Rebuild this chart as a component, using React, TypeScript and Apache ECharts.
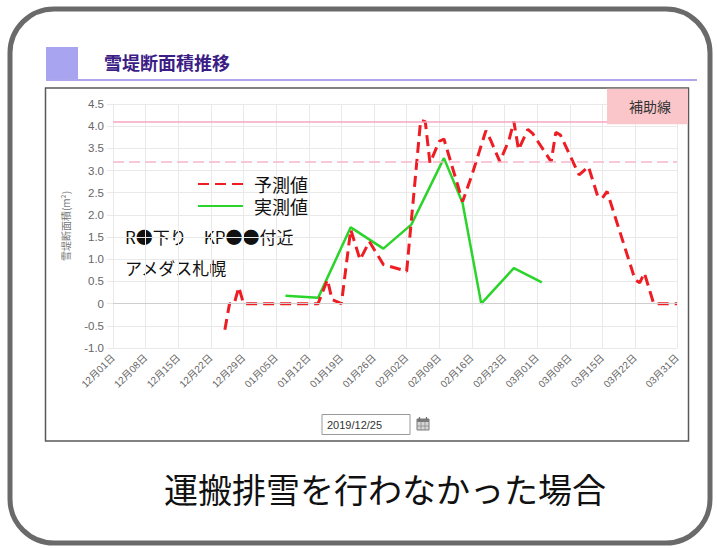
import React, { useEffect, useRef } from "react";
import * as echarts from "echarts";

// ---- data ----
const axisStart = "2019-12-01";
const axisEnd = "2020-03-31";

const predDates = [
  "2019-12-25", "2019-12-26", "2019-12-27", "2019-12-28", "2019-12-29",
  "2020-01-14", "2020-01-16", "2020-01-17", "2020-01-19", "2020-01-21",
  "2020-01-23", "2020-01-25", "2020-01-28", "2020-02-02", "2020-02-05",
  "2020-02-06", "2020-02-07", "2020-02-09", "2020-02-10", "2020-02-14",
  "2020-02-16", "2020-02-19", "2020-02-20", "2020-02-22", "2020-02-24",
  "2020-02-25", "2020-02-26", "2020-02-28", "2020-02-29", "2020-03-04",
  "2020-03-05", "2020-03-06", "2020-03-10", "2020-03-12", "2020-03-14",
  "2020-03-15", "2020-03-16", "2020-03-22", "2020-03-23", "2020-03-24",
  "2020-03-26", "2020-03-31",
];
const predValues = [
  -0.59, 0, 0, 0.37, 0,
  0, 0.54, 0.09, 0, 1.67,
  0.99, 1.4, 0.88, 0.73, 4.13,
  4.1, 3.17, 3.66, 3.71, 2.3,
  2.9, 3.9, 3.69, 3.2, 3.7,
  4.11, 3.47, 3.93, 3.84, 3.2,
  3.86, 3.8, 2.9, 3.09, 2.42,
  2.38, 2.53, 0.54, 0.47, 0.69,
  0, 0,
];

const actDates = [
  "2020-01-07", "2020-01-14", "2020-01-21", "2020-01-28", "2020-02-03",
  "2020-02-10", "2020-02-14", "2020-02-18", "2020-02-25", "2020-03-02",
];
const actValues = [0.18, 0.13, 1.72, 1.24, 1.78, 3.28, 2.27, 0, 0.8, 0.48];

const refSolidValue = 4.1;
const refDashedValue = 3.2;
const seriesNames = ["予測値", "実測値"];
const titleText = "雪堤断面積推移";
const yAxisName = "雪堤断面積(m²)";
const noteLines = ["R●下り　KP●●付近", "アメダス札幌"];
const refBoxText = "補助線";
const dateText = "2019/12/25";
const captionText = "運搬排雪を行わなかった場合";

// ---- helpers ----
function buildDays(start: string, end: string): string[] {
  const out: string[] = [];
  const d = new Date(start + "T00:00:00Z");
  const e = new Date(end + "T00:00:00Z");
  while (d.getTime() <= e.getTime()) {
    out.push(d.toISOString().slice(0, 10));
    d.setUTCDate(d.getUTCDate() + 1);
  }
  return out;
}

const CJK = "'Noto Sans CJK JP', sans-serif";
const LAT = "'Liberation Sans', 'Noto Sans CJK JP', sans-serif";

export default function App() {
  const ref = useRef<HTMLDivElement>(null);

  useEffect(() => {
    if (!ref.current) return;
    const chart = echarts.init(ref.current, undefined, { renderer: "svg" });

    const days = buildDays(axisStart, axisEnd);
    const lastIdx = days.length - 1;
    const shown = (i: number) => (i % 7 === 0 && i < lastIdx - 2) || i === lastIdx;

    const toSeries = (dates: string[], vals: number[]) => {
      const m = new Map<string, number>();
      dates.forEach((d, i) => m.set(d, vals[i]));
      return days.map((d) => (m.has(d) ? (m.get(d) as number) : null));
    };

    const gridColor = "#e9e9e9";

    const option: any = {
      animation: false,
      backgroundColor: "#ffffff",
      grid: { left: 113, right: 40, top: 104, bottom: 200 },
      legend: {
        orient: "vertical",
        left: 197,
        top: 175,
        itemWidth: 45,
        itemHeight: 12,
        itemGap: 4,
        padding: 0,
        data: seriesNames,
        itemStyle: { opacity: 0 },
        textStyle: { fontSize: 18, lineHeight: 18, color: "#111", fontFamily: CJK, padding: [0, 0, 0, 6] },
      },
      xAxis: {
        type: "category",
        data: days,
        boundaryGap: false,
        axisLine: { show: true, lineStyle: { color: "#dedede", width: 1 } },
        axisTick: { show: true, interval: (i: number) => shown(i), length: 7, lineStyle: { color: gridColor } },
        splitLine: { show: true, interval: (i: number) => shown(i), lineStyle: { color: gridColor, width: 1 } },
        axisLabel: {
          interval: (i: number) => shown(i),
          rotate: 45,
          margin: 8,
          fontSize: 10,
          color: "#666",
          fontFamily: LAT,
          formatter: (v: string) => `${v.slice(5, 7)}月${v.slice(8, 10)}日`,
        },
      },
      yAxis: {
        type: "value",
        min: -1,
        max: 4.5,
        interval: 0.5,
        name: yAxisName,
        nameLocation: "middle",
        nameGap: 43,
        nameTextStyle: { fontSize: 10, color: "#777", fontFamily: CJK },
        axisLine: { show: false },
        axisTick: { show: true, length: 6, lineStyle: { color: gridColor } },
        splitLine: { show: true, lineStyle: { color: gridColor, width: 1 } },
        axisLabel: {
          margin: 9,
          fontSize: 11.5,
          color: "#666",
          fontFamily: LAT,
          formatter: (v: number) => (v === 0 ? "0" : v.toFixed(1)),
        },
      },
      series: [
        {
          name: seriesNames[0],
          type: "line",
          data: toSeries(predDates, predValues),
          connectNulls: true,
          symbol: "none",
          showSymbol: false,
          z: 4,
          itemStyle: { color: "#ee1d24" },
          lineStyle: { color: "#ee1d24", width: 3, type: [11, 6] },
          markLine: {
            silent: true,
            symbol: "none",
            label: { show: false },
            data: [
              { yAxis: 0, lineStyle: { color: "#cfcfcf", width: 1.2, type: "solid" } },
              { yAxis: refSolidValue, lineStyle: { color: "#f5a6c2", width: 1.5, type: "solid" } },
              { yAxis: refDashedValue, lineStyle: { color: "#f7b6cc", width: 1.5, type: [11, 5] } },
            ],
          },
        },
        {
          name: seriesNames[1],
          type: "line",
          data: toSeries(actDates, actValues),
          connectNulls: true,
          symbol: "none",
          showSymbol: false,
          z: 3,
          itemStyle: { color: "#2bd42b" },
          lineStyle: { color: "#2bd42b", width: 2.5, type: "solid" },
        },
      ],
      graphic: [
        // outer rounded frame
        {
          type: "rect",
          shape: { x: 10, y: 9, width: 700, height: 534, r: 44 },
          style: { fill: null, stroke: "#6a6a6a", lineWidth: 5 },
          silent: true,
        },
        // title block
        {
          type: "rect",
          shape: { x: 46, y: 47, width: 32, height: 33 },
          style: { fill: "#a9a4f0" },
          silent: true,
        },
        {
          type: "line",
          shape: { x1: 46, y1: 80, x2: 697, y2: 80 },
          style: { stroke: "#aea6ec", lineWidth: 2 },
          silent: true,
        },
        {
          type: "text",
          x: 104,
          y: 62,
          style: {
            text: titleText,
            fill: "#3c1d86",
            fontSize: 18,
            fontWeight: "bold",
            fontFamily: CJK,
            verticalAlign: "middle",
          },
          silent: true,
        },
        // chart box
        {
          type: "rect",
          shape: { x: 45.5, y: 88, width: 643, height: 353 },
          style: { fill: null, stroke: "#5a5a5a", lineWidth: 1.5 },
          silent: true,
        },
        // reference-line box
        {
          type: "rect",
          z: 100,
          shape: { x: 607, y: 88.8, width: 81, height: 35.5 },
          style: { fill: "#fbc6ca" },
          silent: true,
        },
        {
          type: "text",
          z: 101,
          x: 650,
          y: 106,
          style: {
            text: refBoxText,
            fill: "#333",
            fontSize: 14,
            fontFamily: CJK,
            align: "center",
            verticalAlign: "middle",
          },
          silent: true,
        },
        // notes
        {
          type: "text",
          x: 125,
          y: 236,
          style: { text: noteLines[0], fill: "#111", fontSize: 17, fontFamily: CJK, verticalAlign: "middle" },
          silent: true,
        },
        {
          type: "text",
          x: 125,
          y: 267,
          style: { text: noteLines[1], fill: "#111", fontSize: 17, fontFamily: CJK, verticalAlign: "middle" },
          silent: true,
        },
        // date input
        {
          type: "rect",
          shape: { x: 322, y: 414.5, width: 88, height: 20 },
          style: { fill: "#fff", stroke: "#9a9a9a", lineWidth: 1 },
          silent: true,
        },
        {
          type: "text",
          x: 327,
          y: 425,
          style: { text: dateText, fill: "#333", fontSize: 11, fontFamily: LAT, verticalAlign: "middle" },
          silent: true,
        },
        // calendar icon
        {
          type: "rect",
          shape: { x: 417, y: 419, width: 12, height: 11 },
          style: { fill: "#d6d6d6", stroke: "#7a7a7a", lineWidth: 1 },
          silent: true,
        },
        {
          type: "rect",
          shape: { x: 417, y: 419, width: 12, height: 3 },
          style: { fill: "#7a7a7a" },
          silent: true,
        },
        {
          type: "line",
          shape: { x1: 421, y1: 422, x2: 421, y2: 430 },
          style: { stroke: "#8a8a8a", lineWidth: 0.8 },
          silent: true,
        },
        {
          type: "line",
          shape: { x1: 425, y1: 422, x2: 425, y2: 430 },
          style: { stroke: "#8a8a8a", lineWidth: 0.8 },
          silent: true,
        },
        {
          type: "line",
          shape: { x1: 417, y1: 426, x2: 429, y2: 426 },
          style: { stroke: "#8a8a8a", lineWidth: 0.8 },
          silent: true,
        },
        {
          type: "line",
          shape: { x1: 419.5, y1: 417, x2: 419.5, y2: 420 },
          style: { stroke: "#6a6a6a", lineWidth: 1.2 },
          silent: true,
        },
        {
          type: "line",
          shape: { x1: 426.5, y1: 417, x2: 426.5, y2: 420 },
          style: { stroke: "#6a6a6a", lineWidth: 1.2 },
          silent: true,
        },
        // caption
        {
          type: "text",
          x: 385,
          y: 488,
          style: {
            text: captionText,
            fill: "#111",
            fontSize: 34,
            fontFamily: CJK,
            align: "center",
            verticalAlign: "middle",
          },
          silent: true,
        },
      ],
    };

    chart.setOption(option);
    return () => {
      chart.dispose();
    };
  }, []);

  return (
    <div
      ref={ref}
      style={{ position: "fixed", left: 0, top: 0, width: 717, height: 548, background: "#fff" }}
    />
  );
}
